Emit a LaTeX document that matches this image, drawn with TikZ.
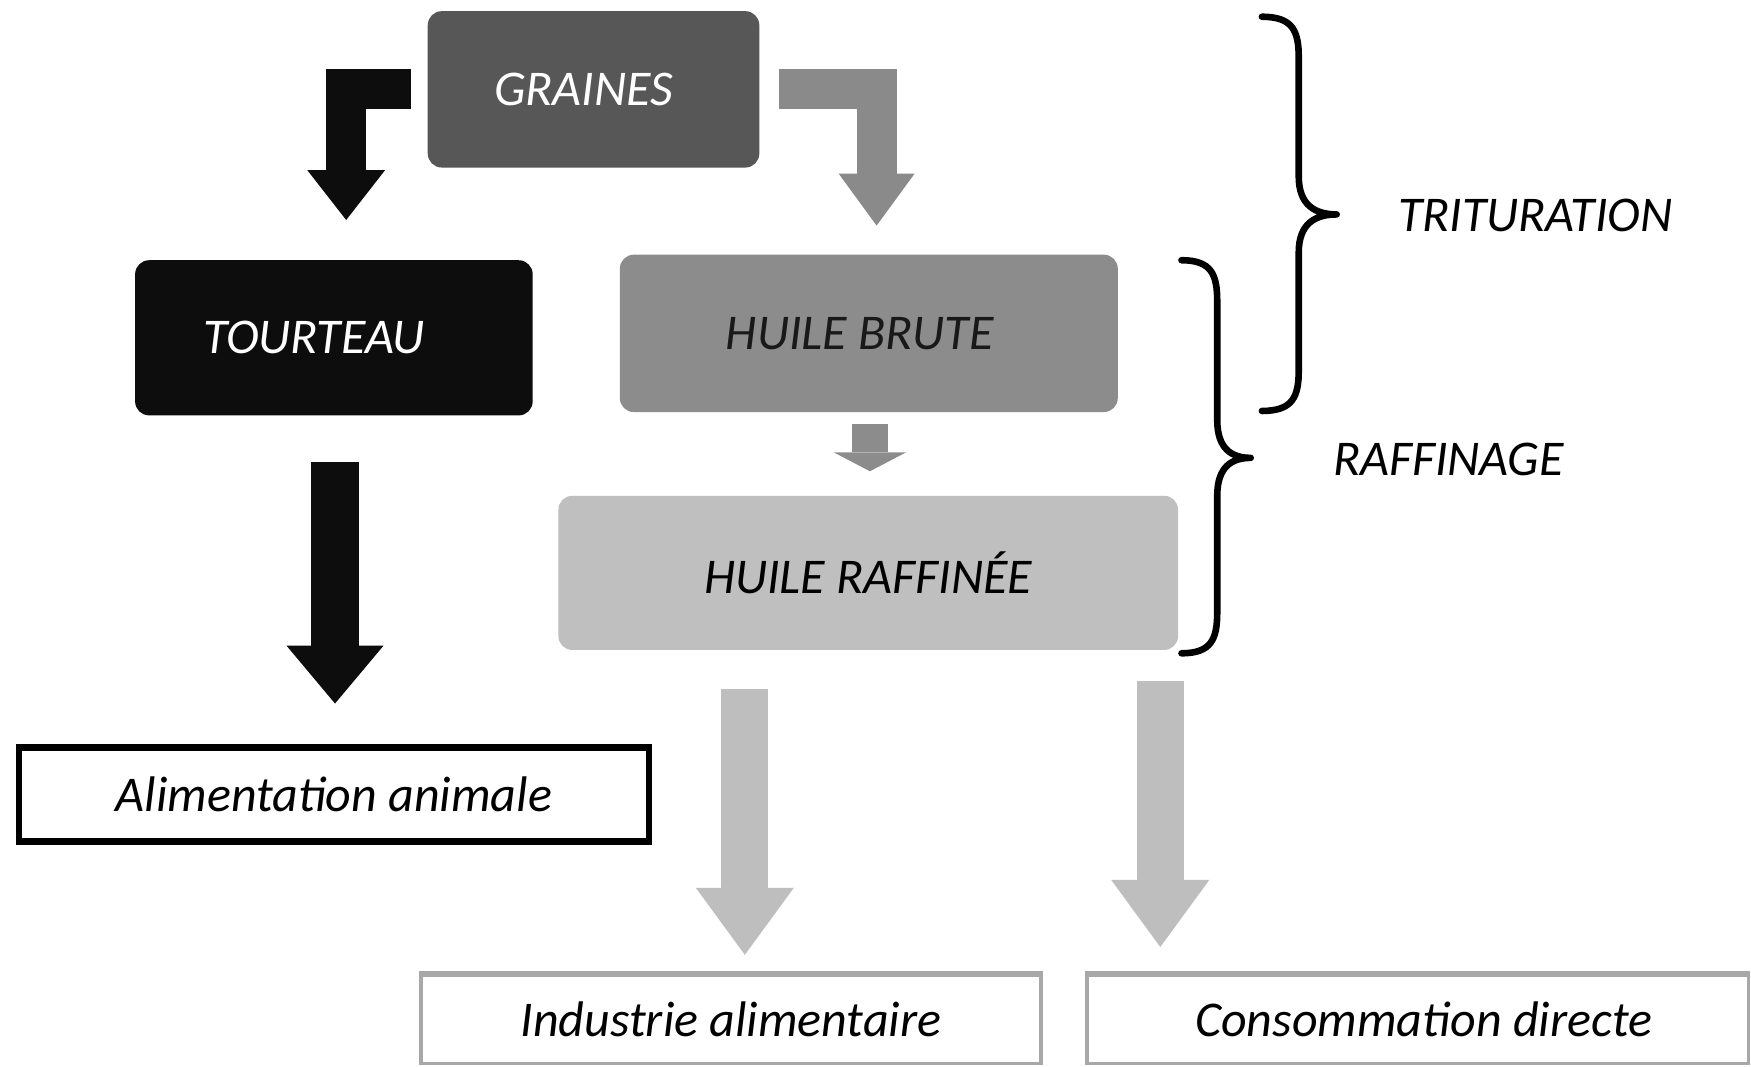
\documentclass[tikz,border=0pt]{standalone}
\usepackage{fontspec}
\setmainfont{Carlito}
\usetikzlibrary{arrows.meta,calc}

\definecolor{grainfill}{HTML}{575757}
\definecolor{tourfill}{HTML}{0D0D0D}
\definecolor{brutefill}{HTML}{8C8C8C}
\definecolor{raffill}{HTML}{BFBFBF}
\definecolor{brutearrow}{HTML}{8A8A8A}
\definecolor{lightarrow}{HTML}{BEBEBE}
\definecolor{outletline}{HTML}{A8A8A8}

\begin{document}
\begin{tikzpicture}[x=0.5584pt,y=-0.5584pt,
  every node/.style={font=\fontsize{25}{30}\selectfont\itshape},
  stage/.style={rectangle, rounded corners=7pt, inner sep=0pt, draw=none},
  outlet/.style={rectangle, inner sep=0pt, fill=white},
  flow/.style={line join=miter, line cap=butt},
  bracestroke/.style={line width=3.3pt, line cap=round, line join=round},
]
\useasboundingbox[fill=white] (0,0) rectangle (1568,955);

% process stages
\node[stage, fill=grainfill, text=white, minimum width=165.8pt, minimum height=78.2pt]
  (graines) at (531.5,80) {GRAINES\hspace{10pt}\null};
\node[stage, fill=tourfill, text=white, minimum width=198.8pt, minimum height=77.6pt]
  (tourteau) at (299,302.5) {TOURTEAU\hspace{20pt}\null};
\node[stage, fill=brutefill, text=black!90, minimum width=249pt, minimum height=78.7pt]
  (brute) at (778,298.5) {HUILE BRUTE\hspace{9pt}\null};
\node[stage, fill=raffill, text=black, minimum width=309.9pt, minimum height=77.1pt]
  (raffinee) at (777.5,513) {HUILE RAFFINÉE};

% end uses
\node[outlet, draw=black, line width=3.3pt, minimum width=315pt, minimum height=47pt]
  (animale) at (299,711.5) {Alimentation animale};
\node[outlet, draw=outletline, line width=1.8pt, minimum width=310pt, minimum height=44pt]
  (industrie) at (654.5,913) {Industrie alimentaire};
\node[outlet, draw=outletline, line width=1.8pt, minimum width=331pt, minimum height=44pt]
  (directe) at (1269.5,913) {\hspace{6pt}Consommation directe};
\draw[outletline, line width=3.2pt] (industrie.north west) -- (industrie.north east);
\draw[outletline, line width=3.2pt] (directe.north west) -- (directe.north east);

% arrow end points
\coordinate (gl) at (368,80);   \coordinate (tl) at (310,197);
\coordinate (gr) at (698,80);   \coordinate (br) at (785,202);
\coordinate (bs) at (779,380);  \coordinate (be) at (779,422);
\coordinate (ts) at (300,414);  \coordinate (te) at (300,630);
\coordinate (is) at (667,617);  \coordinate (ie) at (667,855);
\coordinate (ds) at (1039,610); \coordinate (de) at (1039,848);

% block arrows
\draw[flow, tourfill, line width=20.1pt,
  -{Triangle[width=39pt,length=25pt,line width=0pt]}] (gl) -| (tl);
\draw[flow, brutearrow, line width=20.1pt,
  -{Triangle[width=38pt,length=26pt,line width=0pt]}] (gr) -| (br);
\draw[flow, brutefill, line width=17.9pt,
  -{Triangle[width=36.3pt,length=9.5pt,line width=0pt]}] (bs) -- (be);
\draw[flow, tourfill, line width=24pt,
  -{Triangle[width=48.6pt,length=29pt,line width=0pt]}] (ts) -- (te);
\draw[flow, lightarrow, line width=23.5pt,
  -{Triangle[width=49pt,length=33.5pt,line width=0pt]}] (is) -- (ie);
\draw[flow, lightarrow, line width=23.5pt,
  -{Triangle[width=49pt,length=33.5pt,line width=0pt]}] (ds) -- (de);

% braces for the two stages
\draw[bracestroke] (1130,15) .. controls (1158,15) and (1163,28) .. (1163,52)
  -- (1163,158) .. controls (1163,184) and (1178,192) .. (1197,192)
  .. controls (1178,192) and (1163,200) .. (1163,226)
  -- (1163,331) .. controls (1163,355) and (1158,368) .. (1130,368);
\draw[bracestroke] (1058,233) .. controls (1085,233) and (1090,246) .. (1090,270)
  -- (1090,376) .. controls (1090,402) and (1103,410) .. (1120,410)
  .. controls (1103,410) and (1090,418) .. (1090,444)
  -- (1090,548) .. controls (1090,572) and (1085,585) .. (1058,585);

\node (trituration) at (1375,193) {TRITURATION};
\node (raffinage) at (1297,411) {RAFFINAGE};
\end{tikzpicture}
\end{document}
